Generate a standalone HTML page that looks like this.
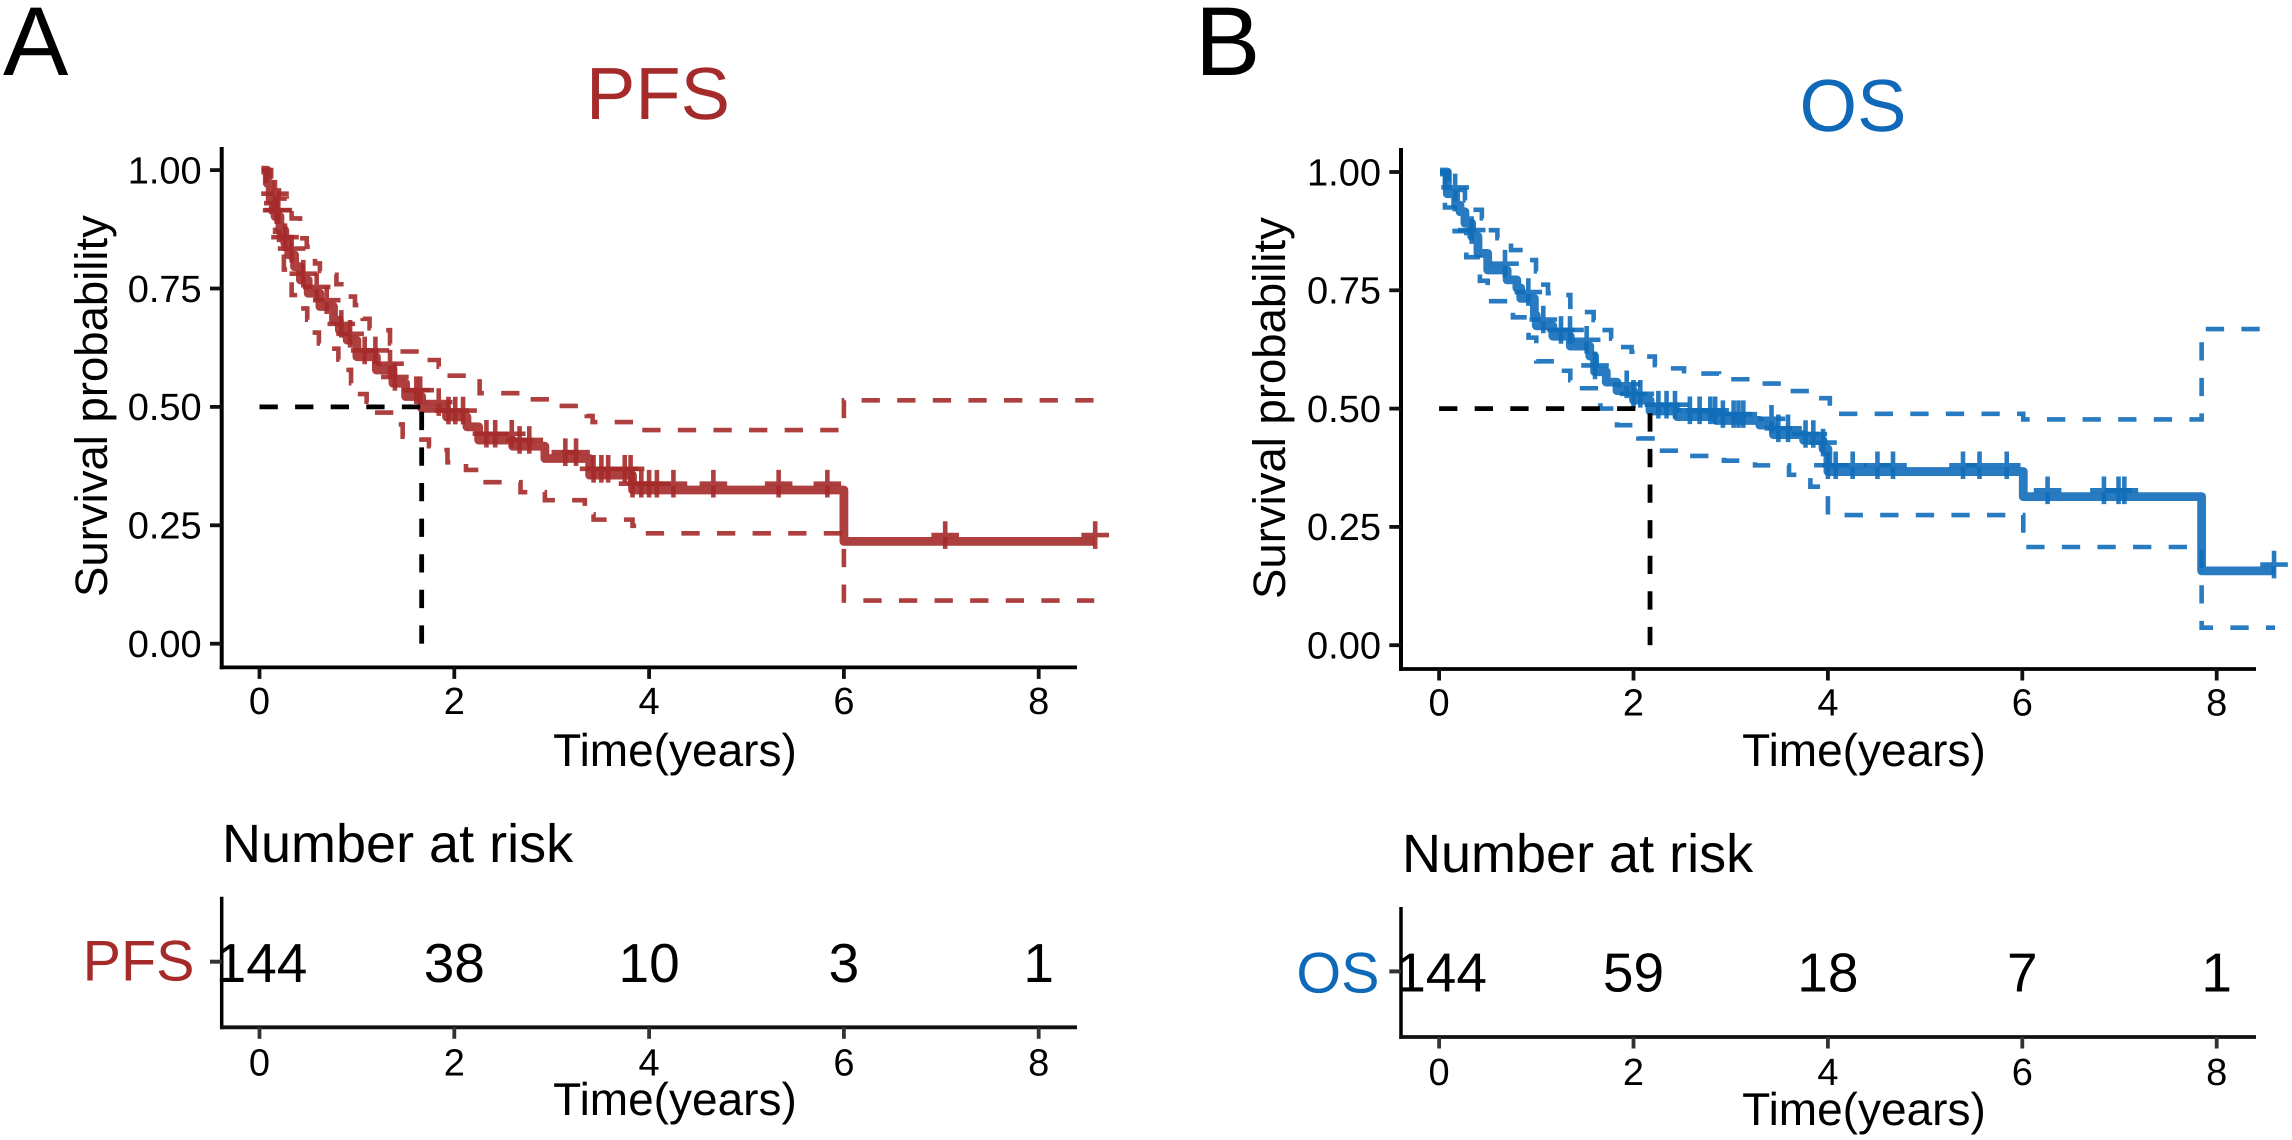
<!DOCTYPE html>
<html>
<head>
<meta charset="utf-8">
<title>PFS and OS survival curves</title>
<style>
html,body{margin:0;padding:0;background:#fff;}
svg{display:block;font-family:"Liberation Sans",sans-serif;text-rendering:geometricPrecision;}
</style>
</head>
<body>
<svg id="fig" xmlns="http://www.w3.org/2000/svg" width="2292" height="1140" viewBox="0 0 2292 1140">
  <rect x="0" y="0" width="2292" height="1140" fill="#fff"/>
  <text x="3" y="75" font-size="98">A</text>
  <text x="1195" y="75" font-size="98">B</text>
  <text x="658" y="119" font-size="74" text-anchor="middle" fill="#A52A2A">PFS</text>
  <text x="1853" y="131" font-size="74" text-anchor="middle" fill="#1068B8">OS</text>
  <text transform="translate(107,406) rotate(-90)" font-size="45.5" text-anchor="middle">Survival probability</text>
  <text transform="translate(1285,408) rotate(-90)" font-size="45.5" text-anchor="middle">Survival probability</text>
  <text x="675" y="766" font-size="46" text-anchor="middle">Time(years)</text>
  <text x="1864" y="766" font-size="46" text-anchor="middle">Time(years)</text>
  <text x="222" y="862" font-size="54">Number at risk</text>
  <text x="1402" y="872" font-size="54">Number at risk</text>
  <text x="194.5" y="980.5" font-size="57.5" text-anchor="end" fill="#A52A2A">PFS</text>
  <text x="1379.5" y="992.5" font-size="57.5" text-anchor="end" fill="#1068B8">OS</text>
  <text x="675" y="1115" font-size="46" text-anchor="middle">Time(years)</text>
  <text x="1864" y="1125" font-size="46" text-anchor="middle">Time(years)</text>
</svg>
<script>
// Axis ticks
const xTicks = [0, 2, 4, 6, 8];
const yTicks = [0, 0.25, 0.5, 0.75, 1];
const yTickLabels = ['0.00', '0.25', '0.50', '0.75', '1.00'];

// PFS series
const pfsEnd = 8.57;
const pfsMedian = 1.665;
const pfsTimes = [0.02,0.08,0.11,0.16,0.21,0.26,0.30,0.36,0.42,0.50,0.62,0.76,0.82,0.90,1.00,1.20,1.37,1.50,1.665,1.92,2.13,2.25,2.60,2.93,3.39,3.83,6.00];
const pfsSurv = [1,0.972,0.937,0.902,0.873,0.845,0.821,0.796,0.768,0.74,0.712,0.683,0.662,0.641,0.606,0.578,0.55,0.522,0.497,0.479,0.458,0.43,0.417,0.391,0.356,0.3245,0.216];
const pfsUpperTimes = [0.02,0.12,0.2,0.28,0.33,0.416,0.485,0.57,0.62,0.76,0.79,0.91,0.98,1.06,1.13,1.30,1.34,1.44,1.72,1.84,1.92,2.26,2.78,3.07,3.36,3.42,3.85,6.0];
const pfsUpperSurv = [1,0.97,0.94,0.915,0.898,0.856,0.838,0.803,0.787,0.779,0.759,0.733,0.715,0.686,0.666,0.662,0.634,0.617,0.599,0.585,0.566,0.529,0.516,0.502,0.481,0.468,0.451,0.514];
const pfsLowerTimes = [0.02,0.07,0.12,0.16,0.2,0.25,0.33,0.416,0.49,0.525,0.61,0.73,0.81,0.87,0.94,0.99,1.1,1.17,1.41,1.47,1.61,1.74,1.89,1.93,2.12,2.28,2.68,2.93,3.34,3.43,3.83,3.94,6.0];
const pfsLowerSurv = [1,0.93,0.90,0.87,0.83,0.79,0.736,0.708,0.684,0.657,0.634,0.623,0.6,0.578,0.55,0.527,0.511,0.488,0.463,0.437,0.431,0.417,0.409,0.383,0.367,0.341,0.32,0.303,0.273,0.262,0.249,0.233,0.091];
const pfsCensor = [0.159,0.176,0.193,0.262,0.33,0.45,0.587,0.69,0.84,0.93,1.08,1.19,1.34,1.39,1.61,1.65,1.84,1.94,2.01,2.09,2.33,2.42,2.59,2.67,2.77,3.14,3.25,3.43,3.51,3.58,3.75,3.81,3.83,3.92,4.0,4.08,4.25,4.66,5.33,5.83,7.04,8.58];
const pfsRisk = [144, 38, 10, 3, 1];

// OS series
const osEnd = 8.6;
const osMedian = 2.17;
const osTimes = [0.01,0.085,0.17,0.215,0.266,0.335,0.40,0.50,0.70,0.80,0.84,0.98,1.00,1.17,1.35,1.55,1.60,1.72,1.83,2.00,2.17,2.45,2.85,3.30,3.44,3.75,3.95,4.00,6.01,7.845];
const osSurv = [1,0.954,0.93,0.916,0.892,0.864,0.828,0.793,0.772,0.755,0.733,0.697,0.675,0.653,0.632,0.611,0.578,0.556,0.538,0.518,0.495,0.483,0.475,0.465,0.445,0.433,0.415,0.367,0.314,0.157];
const osUpperTimes = [0.01,0.1,0.215,0.266,0.352,0.44,0.49,0.6,0.74,0.92,0.997,1.02,1.12,1.29,1.35,1.48,1.59,1.66,1.77,1.85,1.98,2.12,2.22,2.38,2.52,2.88,3.3,3.6,3.9,4.02,6.01,7.845];
const osUpperSurv = [1,0.975,0.962,0.94,0.92,0.902,0.877,0.86,0.835,0.814,0.79,0.762,0.744,0.74,0.715,0.704,0.687,0.666,0.648,0.63,0.62,0.61,0.592,0.585,0.574,0.562,0.553,0.537,0.522,0.489,0.477,0.668];
const osLowerTimes = [0.01,0.06,0.16,0.28,0.42,0.5,0.76,0.92,1.0,1.26,1.35,1.43,1.66,1.83,2.05,2.26,2.57,2.93,3.25,3.6,3.82,4.0,6.01,7.845];
const osLowerSurv = [1,0.925,0.875,0.82,0.77,0.727,0.693,0.65,0.6,0.58,0.56,0.543,0.5,0.465,0.437,0.411,0.40,0.39,0.38,0.36,0.335,0.275,0.2075,0.037];
const osCensor = [0.165,0.335,0.678,0.918,1.072,1.254,1.347,1.518,1.604,1.93,2.0,2.07,2.256,2.34,2.427,2.58,2.68,2.79,2.84,2.92,3.03,3.08,3.13,3.42,3.49,3.59,3.77,3.85,3.95,4.0,4.08,4.255,4.51,4.67,5.39,5.56,5.84,6.26,6.84,6.99,7.05,8.59];
const osRisk = [144, 59, 18, 7, 1];

const NS = 'http://www.w3.org/2000/svg';
const svg = document.getElementById('fig');

function make(tag, name, attrs, text) {
  const el = document.createElementNS(NS, tag);
  
  
  for (const k in attrs) el.setAttribute(k, attrs[k]);
  if (text !== undefined) el.textContent = text;
  svg.appendChild(el);
  return el;
}

function stepPath(ts, ss, end, sx, sy) {
  let d = 'M' + sx(ts[0]).toFixed(2) + ' ' + sy(ss[0]).toFixed(2);
  for (let i = 1; i < ts.length; i++) {
    d += 'H' + sx(ts[i]).toFixed(2) + 'V' + sy(ss[i]).toFixed(2);
  }
  return d + 'H' + sx(end).toFixed(2);
}

function stepValue(ts, ss, t) {
  let v = ss[0];
  for (let i = 0; i < ts.length; i++) if (ts[i] <= t) v = ss[i];
  return v;
}

function panel(p) {
  const sx = t => p.x0 + p.xScale * t;
  const sy = s => p.y0 - p.yScale * s;
  const ns = p.id;

  // main axes
  make('line', ns + '-y-axis', {x1: p.axisX, x2: p.axisX, y1: p.axisTop, y2: p.axisBottom + 1.9, stroke: '#000', 'stroke-width': 4});
  make('line', ns + '-x-axis', {x1: p.axisX - 2, x2: p.axisRight, y1: p.axisBottom, y2: p.axisBottom, stroke: '#000', 'stroke-width': 3.8});

  xTicks.forEach(function (t) {
    make('line', ns + '-x-tick', {x1: sx(t), x2: sx(t), y1: p.axisBottom, y2: p.axisBottom + 11.5, stroke: '#111', 'stroke-width': 3.8});
    make('text', ns + '-x-tick-label', {x: sx(t), y: p.axisBottom + 46.5, 'font-size': 38, 'text-anchor': 'middle'}, String(t));
  });
  yTicks.forEach(function (s, i) {
    make('line', ns + '-y-tick', {x1: p.axisX - 11.7, x2: p.axisX, y1: sy(s), y2: sy(s), stroke: '#111', 'stroke-width': 3.8});
    make('text', ns + '-y-tick-label', {x: p.axisX - 20, y: sy(s) + 13.3, 'font-size': 38, 'text-anchor': 'end'}, yTickLabels[i]);
  });

  // confidence bands
  make('path', ns + '-ci-upper', {d: stepPath(p.upT, p.upS, p.end, sx, sy), fill: 'none', stroke: p.color, 'stroke-opacity': 0.9, 'stroke-width': 4.6, 'stroke-dasharray': '18.3 17.3'});
  make('path', ns + '-ci-lower', {d: stepPath(p.loT, p.loS, p.end, sx, sy), fill: 'none', stroke: p.color, 'stroke-opacity': 0.9, 'stroke-width': 4.6, 'stroke-dasharray': '18.3 17.3'});

  // survival curve
  make('path', ns + '-survival-curve', {d: stepPath(p.t, p.s, p.end, sx, sy), fill: 'none', stroke: p.color, 'stroke-opacity': 0.9, 'stroke-width': 8.8, 'stroke-linejoin': 'round'});

  // censor marks
  p.censor.forEach(function (t) {
    const cx = sx(t);
    const cy = sy(stepValue(p.t, p.s, t)) - 6.3;
    make('path', ns + '-censor-mark', {d: 'M' + (cx - 13.8).toFixed(2) + ' ' + cy.toFixed(2) + 'h27.6M' + cx.toFixed(2) + ' ' + (cy - 13.8).toFixed(2) + 'v27.6', fill: 'none', stroke: p.color, 'stroke-opacity': 0.9, 'stroke-width': 4.6});
  });

  // median guide lines
  make('path', ns + '-median-horizontal', {d: 'M' + sx(0) + ' ' + sy(0.5) + 'H' + sx(p.median), fill: 'none', stroke: '#000', 'stroke-width': 4.8, 'stroke-dasharray': '18.3 17.3'});
  make('path', ns + '-median-vertical', {d: 'M' + sx(p.median) + ' ' + sy(0) + 'V' + sy(0.5), fill: 'none', stroke: '#000', 'stroke-width': 4.8, 'stroke-dasharray': '18.3 17.3'});

  // risk table
  make('line', ns + '-risk-y-axis', {x1: p.axisX, x2: p.axisX, y1: p.riskTop, y2: p.riskBottom + 1.9, stroke: '#000', 'stroke-width': 3.5});
  make('line', ns + '-risk-x-axis', {x1: p.axisX - 1.7, x2: p.axisRight, y1: p.riskBottom, y2: p.riskBottom, stroke: '#111', 'stroke-width': 3.8});
  make('line', ns + '-risk-y-tick', {x1: p.axisX - 11.7, x2: p.axisX, y1: p.riskBottom - 65.6, y2: p.riskBottom - 65.6, stroke: '#333', 'stroke-width': 4});
  xTicks.forEach(function (t, i) {
    make('line', ns + '-risk-x-tick', {x1: sx(t), x2: sx(t), y1: p.riskBottom, y2: p.riskBottom + 11.5, stroke: '#333', 'stroke-width': 3.8});
    make('text', ns + '-risk-x-tick-label', {x: sx(t), y: p.riskBottom + 48, 'font-size': 38, 'text-anchor': 'middle'}, String(t));
    make('text', ns + '-risk-count', {x: sx(t) + (i === 0 ? 2 : 0), y: p.riskBottom - 45.5, 'font-size': 55, 'text-anchor': 'middle'}, String(p.risk[i]));
  });
}

panel({
  id: 'pfs', color: '#A52A2A',
  x0: 259.5, xScale: 97.4, y0: 643.7, yScale: 473.6,
  axisX: 221.7, axisRight: 1077, axisTop: 147, axisBottom: 667.4,
  riskTop: 896.7, riskBottom: 1027.3,
  t: pfsTimes, s: pfsSurv, upT: pfsUpperTimes, upS: pfsUpperSurv, loT: pfsLowerTimes, loS: pfsLowerSurv,
  censor: pfsCensor, median: pfsMedian, end: pfsEnd, risk: pfsRisk
});
panel({
  id: 'os', color: '#116DB9',
  x0: 1439.1, xScale: 97.2, y0: 645.2, yScale: 473.2,
  axisX: 1401, axisRight: 2256, axisTop: 148, axisBottom: 669,
  riskTop: 907, riskBottom: 1037,
  t: osTimes, s: osSurv, upT: osUpperTimes, upS: osUpperSurv, loT: osLowerTimes, loS: osLowerSurv,
  censor: osCensor, median: osMedian, end: osEnd, risk: osRisk
});
</script>
</body>
</html>
